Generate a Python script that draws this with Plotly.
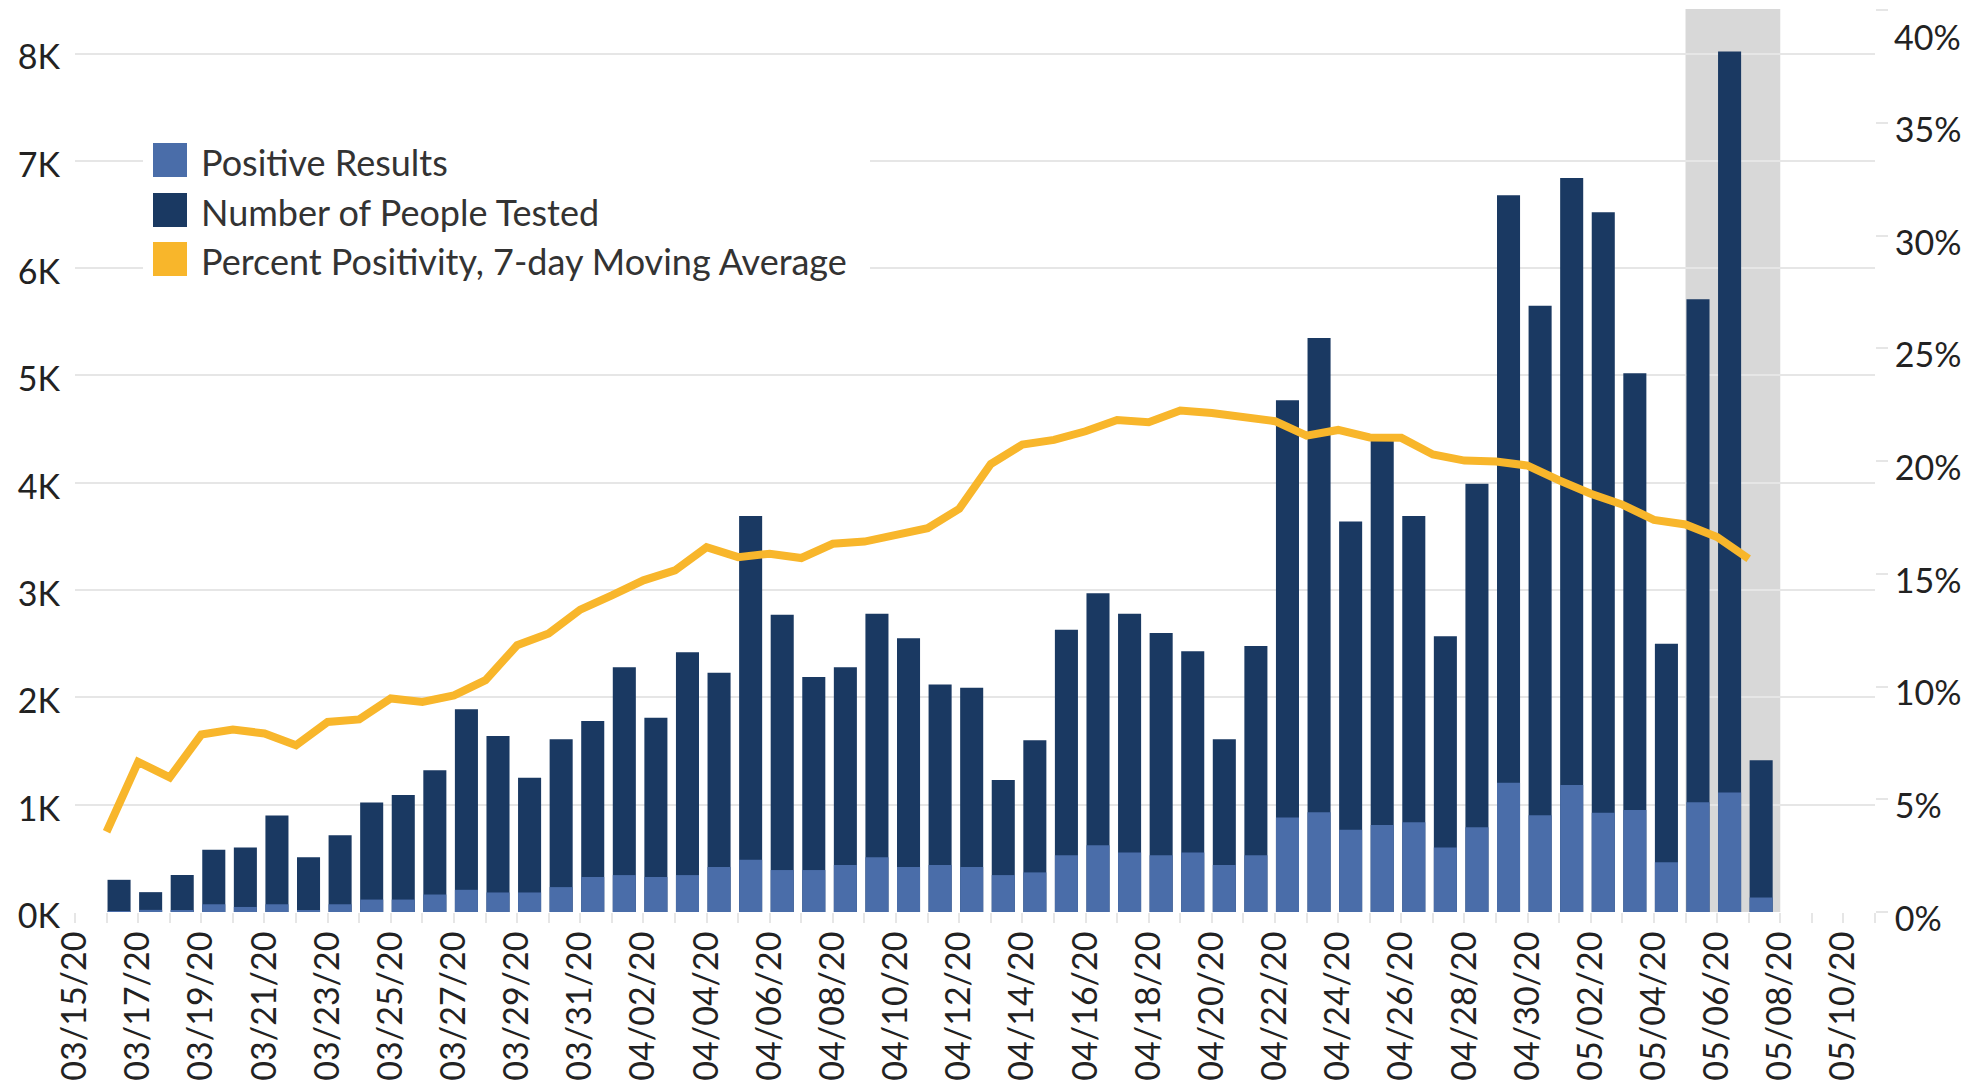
import plotly.graph_objects as go
import pandas as pd

# daily values, 03/16/20 .. 05/07/20
dates = pd.date_range("2020-03-16", periods=53, freq="D")
people_tested = [
    300, 185, 345, 580, 600, 900, 510, 715, 1020, 1090,
    1320, 1890, 1640, 1250, 1610, 1780, 2280, 1810, 2420, 2230,
    3690, 2770, 2190, 2280, 2780, 2550, 2120, 2090, 1230, 1600,
    2630, 2970, 2780, 2600, 2430, 1610, 2480, 4770, 5350, 3640,
    4410, 3690, 2570, 3990, 6680, 5650, 6840, 6520, 5020, 2500,
    5710, 8020, 1415,
]
positive_results = [
    5, 20, 15, 72, 47, 72, 16, 72, 116, 116,
    163, 207, 182, 182, 232, 326, 344, 326, 344, 419,
    488, 391, 391, 438, 510, 419, 438, 419, 344, 369,
    529, 623, 554, 529, 554, 438, 529, 880, 930, 767,
    811, 836, 601, 789, 1205, 901, 1183, 926, 951, 463,
    1023, 1114, 135,
]
pct_positivity = [
    3.56, 6.66, 5.97, 7.87, 8.09, 7.92, 7.40, 8.43, 8.54, 9.47,
    9.32, 9.61, 10.28, 11.83, 12.35, 13.41, 14.04, 14.71, 15.15, 16.18,
    15.74, 15.89, 15.70, 16.33, 16.43, 16.77, 17.02, 17.88, 19.87, 20.73,
    20.94, 21.32, 21.82, 21.72, 22.24, 22.13, 21.99, 21.77, 21.13, 21.38,
    21.05, 21.03, 20.29, 20.02, 19.98, 19.80, 19.14, 18.55, 18.07, 17.39,
    17.19, 16.63, 15.67,
]
y_tick_values = [0, 1000, 2000, 3000, 4000, 5000, 6000, 7000, 8000]
y_tick_labels = ["0K", "1K", "2K", "3K", "4K", "5K", "6K", "7K", "8K"]
pct_tick_values = [0, 0.05, 0.10, 0.15, 0.20, 0.25, 0.30, 0.35, 0.40]
pct_tick_labels = ["0%", "5%", "10%", "15%", "20%", "25%", "30%", "35%", "40%"]
legend_labels = ["Positive Results", "Number of People Tested",
                 "Percent Positivity, 7-day Moving Average"]
highlight_range = ["2020-05-05", "2020-05-08"]

NAVY = "#1A3962"
BLUE = "#4A6DA9"
GOLD = "#F8B62B"
GRID = "#E6E6E6"
FONT = "Lato"
DAY = 86400000

# plot area in pixels: x 75..1875, y 9..912
def px_x(px):
    return (px - 75) / 1800

def px_y(py):
    return (912 - py) / 903

fig = go.Figure()
fig.add_trace(go.Bar(
    x=dates, y=people_tested, name=legend_labels[1],
    marker=dict(color=NAVY, line=dict(width=0)),
    offset=0.03 * DAY, width=0.73 * DAY,
))
fig.add_trace(go.Bar(
    x=dates, y=positive_results, name=legend_labels[0],
    marker=dict(color=BLUE, line=dict(width=0)),
    offset=0.03 * DAY, width=0.73 * DAY,
))
fig.add_trace(go.Scatter(
    x=dates, y=[p / 100 for p in pct_positivity], name=legend_labels[2],
    yaxis="y2", mode="lines",
    line=dict(color=GOLD, width=8),
))

# grey band on the last days
fig.add_shape(type="rect", xref="x", yref="paper",
              x0=highlight_range[0], x1=highlight_range[1], y0=0, y1=1,
              fillcolor="#D8D8D8", line_width=0, layer="below")

# hand-drawn legend with big square swatches
fig.add_shape(type="rect", xref="paper", yref="paper",
              x0=px_x(143), x1=px_x(870), y0=px_y(300), y1=px_y(118),
              fillcolor="white", line_width=0, layer="above")
for label, color, cy in zip(legend_labels, [BLUE, NAVY, GOLD], [160, 210, 259]):
    fig.add_shape(type="rect", xref="paper", yref="paper",
                  x0=px_x(153), x1=px_x(187), y0=px_y(cy + 17), y1=px_y(cy - 17),
                  fillcolor=color, line_width=0, layer="above")
    fig.add_annotation(text=label, xref="paper", yref="paper",
                       x=px_x(199), y=px_y(cy + 2), xanchor="left", yanchor="middle",
                       showarrow=False, font=dict(family=FONT, size=36, color="#333333"))

# top right-axis label sits pulled down inside the page, like the original
fig.add_annotation(text=pct_tick_labels[-1], xref="paper", yref="y2",
                   x=1, y=pct_tick_values[-1], xanchor="left", yanchor="middle",
                   xshift=17, yshift=-26, showarrow=False,
                   font=dict(family=FONT, size=34, color="#222222"))

fig.update_layout(
    width=1974, height=1084,
    margin=dict(l=75, r=99, t=9, b=172, pad=0),
    paper_bgcolor="white", plot_bgcolor="white",
    barmode="overlay", showlegend=False,
    font=dict(family=FONT, size=34, color="#222222"),
    xaxis=dict(
        type="date", range=["2020-03-15", "2020-05-11"],
        tick0="2020-03-15", dtick=2 * DAY, tickformat="%m/%d/%y", tickangle=-90,
        ticks="outside", ticklen=10, tickcolor=GRID, tickwidth=2,
        minor=dict(dtick=DAY, ticks="outside", ticklen=10, tickcolor=GRID, tickwidth=2, showgrid=False),
        showgrid=False, zeroline=False, showline=False, ticklabelstandoff=-5,
        automargin=False,
    ),
    yaxis=dict(
        range=[0, 8415], tickvals=y_tick_values, ticktext=y_tick_labels,
        showgrid=True, gridcolor=GRID, gridwidth=2, zeroline=False,
        ticks="", ticklabelstandoff=14, ticklabelshift=4, automargin=False,
    ),
    yaxis2=dict(
        overlaying="y", side="right", range=[0, 0.4005],
        tickvals=pct_tick_values, ticktext=pct_tick_labels[:-1] + [""],
        showgrid=False, zeroline=False, ticks="outside", ticklen=12,
        tickcolor=GRID, tickwidth=2, ticklabelshift=7, automargin=False,
    ),
)

fig.write_html("out.html", config={"displayModeBar": False},
               post_script="document.body.style.margin='0';")
